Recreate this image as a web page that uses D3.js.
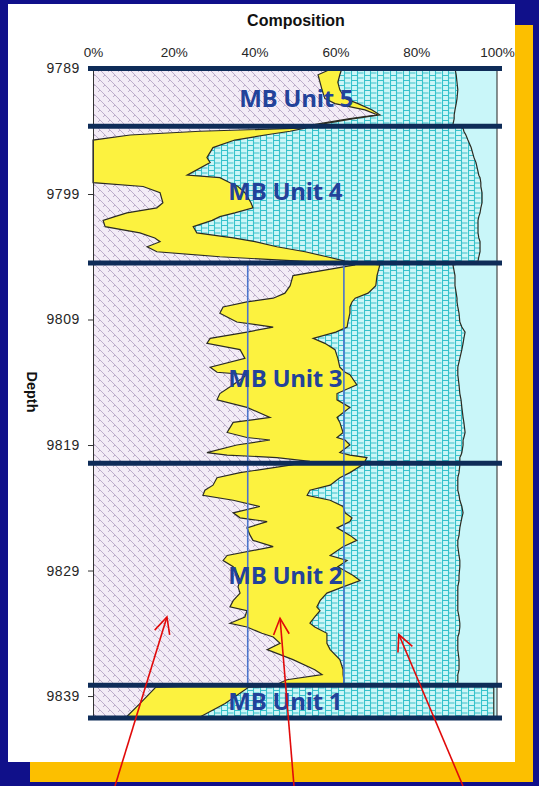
<!DOCTYPE html>
<html>
<head>
<meta charset="utf-8">
<script src="https://cdn.jsdelivr.net/npm/d3@7"></script>
<style>
  body { margin: 0; background: #10108a; }
  svg { display: block; }
</style>
</head>
<body>
<svg id="chart" width="539" height="786"></svg>
<script>
// Core samples: depth (ft) and cumulative composition (%) at each boundary.
const depths = [
  9789.0, 9789.5, 9790.1, 9790.7, 9791.4, 9791.8, 9792.3, 9792.7, 9793.0, 9793.45,
  9793.75, 9794.0, 9794.3, 9794.7, 9795.3, 9796.1, 9796.5, 9797.5, 9797.7, 9798.1,
  9798.4, 9798.9, 9799.7, 9800.1, 9800.5, 9800.8, 9801.1, 9801.6, 9802.1, 9802.5,
  9802.8, 9803.2, 9803.6, 9804.0, 9804.35,
  9804.65, 9805.5, 9806.3, 9806.9, 9807.3, 9807.6, 9808.0, 9808.5, 9809.2, 9809.6,
  9810.0, 9810.5, 9810.9, 9811.4, 9812.1, 9812.8, 9813.2, 9813.4, 9814.2, 9814.9,
  9815.4, 9816.0, 9816.8, 9817.2, 9818.0, 9818.4, 9818.6, 9819.0, 9819.6, 9819.8,
  9820.0, 9820.3,
  9820.6, 9821.2, 9821.6, 9822.2, 9822.6, 9823.0, 9823.4, 9823.9, 9824.4, 9824.8,
  9825.1, 9825.6, 9826.2, 9826.6, 9827.1, 9827.8, 9828.2, 9828.7, 9829.4, 9829.8,
  9830.3, 9830.8, 9831.4, 9831.9, 9832.2, 9832.7, 9833.2, 9833.5, 9834.0, 9834.3,
  9834.8, 9835.3, 9836.1, 9836.9, 9837.3, 9837.7, 9838.0,
  9838.3, 9839.6, 9840.75
];
// Right edge of the cross-hatched (left) component
const cumFirst = [
  59.2, 55.7, 56.2, 56.7, 57.4, 59.9, 67.3, 70.5, 63.6, 55.0,
  51.2, 26.5, 9.2, 0, 0, 0, 0, 0, 0, 0,
  12.4, 16.6, 17.3, 15.8, 8.4, 5.4, 2.5, 3.0, 11.6, 15.3,
  16.6, 13.4, 15.8, 31.4, 51.2,
  64.9, 49.5, 48.8, 47.5, 44.6, 38.1, 32.2, 31.4, 35.6, 44.6,
  38.1, 29.0, 28.2, 36.4, 37.6, 29.0, 30.7, 38.1, 34.7, 31.4,
  30.7, 38.1, 43.8, 34.7, 33.2, 38.1, 43.8, 35.6, 28.2, 33.2,
  45.5, 53.7,
  48.8, 36.4, 30.7, 29.7, 27.7, 27.2, 34.7, 41.3, 34.7, 36.4,
  43.1, 38.1, 38.9, 39.6, 44.6, 33.2, 32.2, 34.7, 35.9, 36.4,
  35.9, 36.4, 34.7, 33.9, 38.1, 37.6, 33.9, 38.1, 41.8, 44.6,
  46.3, 43.1, 49.5, 54.9, 56.7, 48.0, 46.0,
  15.5, 11.6, 8.0
];
// Right edge of the yellow component
const cumSecond = [
  61.6, 61.1, 60.6, 61.1, 62.4, 65.6, 69.1, 71.0, 64.6, 56.2,
  52.5, 48.8, 42.6, 35.1, 29.7, 28.2, 29.0, 23.3, 31.4, 33.9,
  35.9, 37.6, 39.1, 39.6, 35.1, 31.4, 29.5, 24.8, 25.7, 34.7,
  40.1, 45.5, 52.5, 57.9, 62.4,
  71.0, 70.3, 70.0, 68.1, 64.9, 64.1, 63.6, 63.6, 63.1, 62.9,
  60.1, 54.5, 57.4, 59.9, 60.6, 61.1, 62.4, 63.6, 65.3, 60.4,
  60.4, 63.6, 60.4, 61.1, 61.9, 60.4, 62.4, 63.6, 61.1, 63.6,
  67.8, 67.3,
  66.6, 63.6, 61.1, 58.7, 53.7, 53.0, 58.7, 61.9, 62.4, 64.1,
  63.6, 60.4, 63.6, 65.3, 61.9, 58.7, 62.9, 60.6, 64.4, 66.1,
  61.9, 57.9, 56.2, 55.4, 56.2, 54.9, 53.7, 54.9, 57.9, 57.9,
  57.9, 58.7, 61.1, 61.9, 61.9, 62.1, 62.0,
  38.5, 32.7, 26.0
];
// Right edge of the brick-patterned component; the remainder up to 100% is solid
const cumThird = [
  89.6, 89.9, 90.1, 90.3, 90.1, 89.9, 89.6, 89.4, 89.4, 89.1,
  91.6, 91.8, 92.3, 92.8, 93.6, 94.3, 94.8, 95.5, 95.8, 96.0,
  96.0, 96.3, 96.3, 96.0, 95.8, 95.5, 95.3, 95.3, 95.3, 95.5,
  95.8, 95.8, 95.8, 95.5, 95.3,
  89.1, 89.6, 89.6, 89.9, 90.1, 90.1, 90.3, 90.6, 90.8, 91.3,
  92.1, 91.8, 91.6, 91.3, 90.8, 90.3, 90.3, 90.3, 90.6, 90.8,
  91.1, 91.3, 91.6, 91.8, 92.1, 91.8, 91.6, 91.6, 91.3, 91.1,
  90.8, 90.8,
  90.8, 90.6, 90.3, 90.3, 90.3, 90.6, 90.8, 91.3, 91.6, 91.3,
  91.1, 90.8, 90.6, 90.3, 90.3, 90.6, 90.8, 90.8, 90.6, 90.6,
  90.3, 90.3, 90.3, 90.3, 90.3, 90.6, 90.8, 90.8, 90.6, 90.3,
  90.3, 90.3, 90.6, 90.6, 90.3, 90.3, 90.3,
  99.2, 99.2, 99.2
];

// Unit boundaries (ft) and unit names
const unitBounds = [9789, 9793.6, 9804.5, 9820.45, 9838.15, 9840.75];
const unitNames = ["MB Unit 5", "MB Unit 4", "MB Unit 3", "MB Unit 2", "MB Unit 1"];
const unitLabelDepth = [9792.1, 9799.5, 9814.4, 9830.1, 9840.1];
const unitLabelPct = [36.2, 33.5, 33.5, 33.5, 33.5];

// Vertical reference cut-offs (%), drawn over Units 3 and 2
const refPercents = [38.3, 62.1];
const refDepthRange = [9804.5, 9838.15];

const depthTicks = [9789, 9799, 9809, 9819, 9829, 9839];
const pctTicks = [0, 20, 40, 60, 80, 100];

// Pointer arrows: tip (percent, depth) and tail x at the bottom edge
const arrowTips = [[18.3, 9832.7], [46.3, 9832.8], [75.7, 9834.1]];
const arrowTailX = [115, 294, 463];

const rows = depths.map((d, i) => ({ d, a: cumFirst[i], b: cumSecond[i], c: cumThird[i] }));

const svg = d3.select("#chart");

// Slide frame: gold drop-shadow box behind a white panel
svg.append("rect").attr("x", 30).attr("y", 25).attr("width", 503).attr("height", 757).attr("fill", "#fcbf00");
svg.append("rect").attr("x", 8).attr("y", 4).attr("width", 507).attr("height", 758).attr("fill", "#ffffff");

const x = d3.scaleLinear().domain([0, 100]).range([93, 497]);
const y = d3.scaleLinear().domain([9789, 9840.75]).range([68.5, 718]);

// Fill patterns
const defs = svg.append("defs");
const hatch = defs.append("pattern").attr("id", "weave").attr("patternUnits", "userSpaceOnUse")
  .attr("width", 10).attr("height", 10);
hatch.append("rect").attr("width", 10).attr("height", 10).attr("fill", "#f3ecf6");
hatch.append("path")
  .attr("d", "M0,0 L5,5 M5,5 L10,10 M-5,5 L0,10 M5,-5 L10,0 M3,7 L5,5 M8,2 L10,0 M-2,2 L0,0")
  .attr("stroke", "#b2a2c2").attr("stroke-width", 0.85).attr("fill", "none");

const brick = defs.append("pattern").attr("id", "brick").attr("patternUnits", "userSpaceOnUse")
  .attr("width", 13).attr("height", 10);
brick.append("rect").attr("width", 13).attr("height", 10).attr("fill", "#cdf6f7");
brick.append("path")
  .attr("d", "M0.5,0 V10 M6.5,0 V10 M0.5,0.5 H6.5 M0.5,5.5 H6.5 M6.5,3 H12.5 M6.5,8 H12.5")
  .attr("stroke", "#38c2cb").attr("stroke-width", 1.1).attr("fill", "none");

const area = (lo, hi) => d3.area().y(r => y(r.d)).x0(r => x(lo(r))).x1(r => x(hi(r)));
const plot = svg.append("g");

plot.append("path").datum(rows).attr("fill", "#c9f6f9")
  .attr("d", area(r => r.c, () => 100));
plot.append("path").datum(rows).attr("fill", "url(#brick)")
  .attr("d", area(r => r.b, r => r.c));
plot.append("path").datum(rows).attr("fill", "#fcf23f")
  .attr("d", area(r => r.a, r => r.b));
plot.append("path").datum(rows).attr("fill", "url(#weave)")
  .attr("d", area(() => 0, r => r.a));

// Boundary outlines
["a", "b", "c"].forEach(k => {
  plot.append("path").datum(rows)
    .attr("fill", "none").attr("stroke", "#2b2b22").attr("stroke-width", 1.2)
    .attr("d", d3.line().y(r => y(r.d)).x(r => x(r[k])));
});

// Right frame line of the plot
svg.append("line").attr("x1", x(100)).attr("x2", x(100)).attr("y1", y(9789)).attr("y2", y(9840.75))
  .attr("stroke", "#222").attr("stroke-width", 1);

// Depth axis
const yAxis = svg.append("g").attr("transform", `translate(${x(0)},0)`)
  .call(d3.axisLeft(y).tickValues(depthTicks).tickSize(5).tickPadding(8).tickFormat(d3.format("d")));
yAxis.select(".domain").attr("stroke", "#333");
yAxis.selectAll(".tick line").attr("stroke", "#333");
yAxis.selectAll("text").attr("font-family", "'Liberation Sans', Arial, sans-serif")
  .attr("font-size", 14).attr("letter-spacing", 0.6).attr("fill", "#262626");

// Composition axis on top (labels only)
const xAxis = svg.append("g").attr("transform", `translate(0,${y(9789) - 8})`)
  .call(d3.axisTop(x).tickValues(pctTicks).tickSize(0).tickPadding(4).tickFormat(d => d + "%"));
xAxis.select(".domain").remove();
xAxis.selectAll("text").attr("font-family", "'Liberation Sans', Arial, sans-serif")
  .attr("font-size", 13.5).attr("fill", "#262626");

svg.append("text").attr("x", 296).attr("y", 26).attr("text-anchor", "middle")
  .attr("font-family", "'Liberation Sans', Arial, sans-serif").attr("font-weight", "bold")
  .attr("font-size", 16).attr("fill", "#111").text("Composition");

svg.append("text").attr("transform", "translate(27,392) rotate(90)").attr("text-anchor", "middle")
  .attr("font-family", "'Liberation Sans', Arial, sans-serif").attr("font-weight", "bold")
  .attr("font-size", 14.5).attr("fill", "#111").text("Depth");

// Reference cut-off lines
svg.selectAll(".ref").data(refPercents).join("line")
  .attr("x1", d => x(d)).attr("x2", d => x(d))
  .attr("y1", y(refDepthRange[0])).attr("y2", y(refDepthRange[1]))
  .attr("stroke", "#4a74cc").attr("stroke-width", 1.6);

// Unit boundaries
svg.selectAll(".bound").data(unitBounds).join("line")
  .attr("x1", x(0) - 5).attr("x2", x(100) + 5)
  .attr("y1", d => y(d)).attr("y2", d => y(d))
  .attr("stroke", "#0e2c58").attr("stroke-width", 5);

// Unit names
svg.selectAll(".unit").data(unitNames).join("text")
  .attr("x", (d, i) => x(unitLabelPct[i])).attr("y", (d, i) => y(unitLabelDepth[i]))
  .attr("font-family", "'Open Sans', sans-serif").attr("font-weight", 700)
  .attr("font-size", 24).attr("fill", "#22429a").attr("letter-spacing", -0.3)
  .text(d => d);

// Pointer arrows
const arrows = svg.append("g").attr("stroke", "#e10a0a").attr("stroke-width", 1.6).attr("fill", "none");
arrowTips.forEach((t, i) => {
  const tx = x(t[0]), ty = y(t[1]);
  const bx = arrowTailX[i], by = 786;
  const ang = Math.atan2(by - ty, bx - tx);
  const len = 18, spread = 0.45;
  arrows.append("line").attr("x1", bx).attr("y1", by).attr("x2", tx).attr("y2", ty);
  arrows.append("path").attr("d",
    `M${tx + len * Math.cos(ang - spread)},${ty + len * Math.sin(ang - spread)} L${tx},${ty} L${tx + len * Math.cos(ang + spread)},${ty + len * Math.sin(ang + spread)}`);
});
</script>
</body>
</html>
